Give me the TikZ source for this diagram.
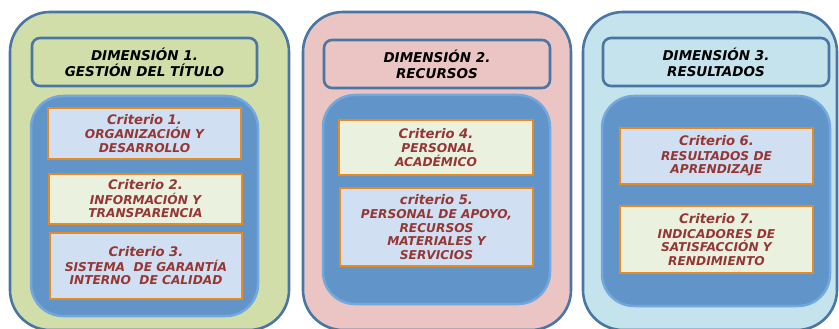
\documentclass[tikz,border=0pt]{standalone}
\usepackage{fontspec}
\setmainfont{DejaVu Sans}
\definecolor{frameblue}{HTML}{4A76A4}
\definecolor{greenpanel}{HTML}{D1DEA9}
\definecolor{pinkpanel}{HTML}{EBC5C4}
\definecolor{bluepanel}{HTML}{C5E3EC}
\definecolor{innerblue}{HTML}{6195C9}
\definecolor{innerrim}{HTML}{72A8DE}
\definecolor{critblue}{HTML}{D0DFF1}
\definecolor{critcream}{HTML}{EBF1DF}
\definecolor{critorange}{HTML}{E98A1E}
\definecolor{crittext}{HTML}{953735}
\newcommand{\crithead}[1]{{\fontsize{13.2}{15}\selectfont #1}}

\begin{document}
\begin{tikzpicture}[x=1pt, y=-1pt,
	panel/.style={rectangle, draw=frameblue, line width=2.6pt, rounded corners=40pt},
	dimbox/.style={rectangle, draw=frameblue, line width=2.6pt, rounded corners=8pt, minimum width=225pt, minimum height=48pt, align=center, font=\fontsize{13.5}{16}\selectfont\bfseries\itshape},
	holder/.style={rectangle, fill=innerblue, draw=innerrim, line width=2.5pt, rounded corners=32pt},
	crit/.style={rectangle, draw=critorange, line width=1.6pt, minimum width=193pt, inner sep=1pt, align=center, text=crittext, font=\fontsize{12.2}{13.5}\selectfont\bfseries\itshape}]
	\useasboundingbox (0,0) rectangle (839,329);

	% outer panels
	\node[panel, fill=greenpanel, minimum width=279pt, minimum height=318pt] (gestion) at (149.5,171) {};
	\node[panel, fill=pinkpanel, minimum width=268pt, minimum height=318pt] (recursos) at (437,171) {};
	\node[panel, fill=bluepanel, minimum width=254pt, minimum height=318pt] (resultados) at (710,171) {};

	\node[dimbox] (dim1) at (144.5,62) {DIMENSIÓN 1.\\GESTIÓN DEL TÍTULO};
	\node[dimbox, minimum width=226pt] (dim2) at (437,64) {DIMENSIÓN 2.\\RECURSOS};
	\node[dimbox, minimum width=226pt] (dim3) at (716,62) {DIMENSIÓN 3.\\RESULTADOS};

	\node[holder, minimum width=227pt, minimum height=220pt] (hold1) at (144.5,206) {};
	\node[holder, minimum width=227pt, minimum height=209pt] (hold2) at (436.5,199.5) {};
	\node[holder, minimum width=228pt, minimum height=210pt] (hold3) at (716,201) {};

	% criterios
	\node[crit, fill=critblue, minimum height=51pt] (crit1) at (144.5,133.5) {\crithead{Criterio 1.}\\[1pt]ORGANIZACIÓN Y\\DESARROLLO};
	\node[crit, fill=critcream, minimum height=50pt] (crit2) at (145.5,199) {\crithead{Criterio 2.}\\[1pt]INFORMACIÓN Y\\TRANSPARENCIA};
	\node[crit, fill=critblue, minimum height=66pt, minimum width=192pt] (crit3) at (146,266) {\crithead{Criterio 3.}\\[1pt]SISTEMA~ DE GARANTÍA\\INTERNO~ DE CALIDAD};
	\node[crit, fill=critcream, minimum height=55pt, minimum width=194pt] (crit4) at (436,147.5) {\crithead{Criterio 4.}\\[1pt]~PERSONAL\\ACADÉMICO};
	\node[crit, fill=critblue, minimum height=78pt] (crit5) at (436.5,227) {\crithead{criterio 5.}\\[1pt]PERSONAL DE APOYO,\\RECURSOS\\MATERIALES Y\\SERVICIOS};
	\node[crit, fill=critblue, minimum height=56pt] (crit6) at (716.5,156) {\crithead{Criterio 6.}\\[1pt]RESULTADOS DE\\APRENDIZAJE};
	\node[crit, fill=critcream, minimum height=67pt] (crit7) at (716.5,239.5) {\crithead{Criterio 7.}\\[1pt]INDICADORES DE\\SATISFACCIÓN Y\\RENDIMIENTO};
\end{tikzpicture}
\end{document}
